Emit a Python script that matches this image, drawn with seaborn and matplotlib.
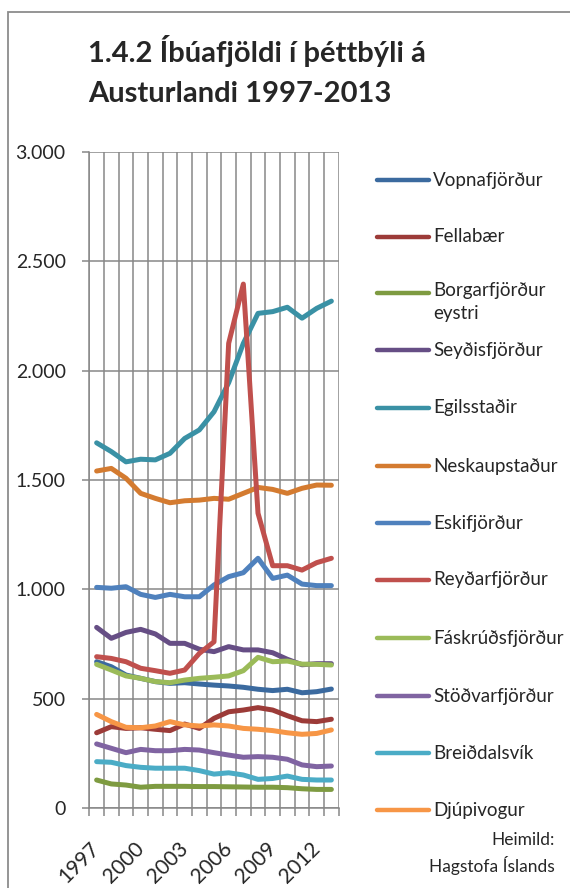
import pandas as pd
import matplotlib.pyplot as plt
import seaborn as sns
from matplotlib.lines import Line2D
from matplotlib.patches import Rectangle
from matplotlib.ticker import FuncFormatter, FixedLocator

# Data
years = list(range(1997, 2014))
vopnafjordur = [669, 646, 608, 593, 578, 570, 573, 567, 562, 558, 552, 543, 537, 543, 527, 532, 544]
fellabaer = [344, 372, 364, 367, 360, 354, 384, 364, 410, 440, 448, 459, 448, 422, 399, 395, 406]
borgarfjordur = [128, 110, 105, 95, 99, 99, 99, 98, 98, 97, 96, 95, 95, 93, 88, 85, 85]
seydisfjordur = [826, 776, 803, 817, 796, 753, 753, 726, 715, 738, 723, 723, 710, 680, 655, 660, 660]
egilsstadir = [1670, 1630, 1583, 1595, 1592, 1622, 1690, 1729, 1812, 1945, 2125, 2262, 2270, 2290, 2240, 2285, 2318]
neskaupstadur = [1541, 1553, 1508, 1439, 1416, 1396, 1405, 1408, 1416, 1412, 1439, 1466, 1457, 1439, 1462, 1477, 1476]
eskifjordur = [1009, 1005, 1012, 977, 963, 977, 966, 966, 1020, 1058, 1076, 1142, 1050, 1065, 1024, 1017, 1017]
reydarfjordur = [692, 684, 669, 639, 628, 616, 631, 707, 760, 2125, 2396, 1348, 1108, 1108, 1088, 1122, 1142]
faskrudsfjordur = [657, 631, 604, 593, 578, 573, 585, 593, 598, 604, 628, 689, 669, 672, 658, 657, 654]
stodvarfjordur = [293, 273, 253, 268, 262, 262, 268, 265, 253, 242, 232, 235, 232, 223, 197, 189, 192]
breiddalsvik = [212, 209, 194, 186, 182, 182, 182, 171, 155, 161, 151, 131, 135, 146, 131, 128, 128]
djupivogur = [428, 395, 369, 367, 375, 395, 380, 375, 380, 375, 364, 360, 354, 344, 337, 341, 357]

towns = ['Vopnafjörður', 'Fellabær', 'Borgarfjörður\neystri', 'Seyðisfjörður',
         'Egilsstaðir', 'Neskaupstaður', 'Eskifjörður', 'Reyðarfjörður',
         'Fáskrúðsfjörður', 'Stöðvarfjörður', 'Breiðdalsvík', 'Djúpivogur']
series = [vopnafjordur, fellabaer, borgarfjordur, seydisfjordur, egilsstadir, neskaupstadur,
          eskifjordur, reydarfjordur, faskrudsfjordur, stodvarfjordur, breiddalsvik, djupivogur]
colors = ['#3B6A9F', '#9C3B38', '#7E9B41', '#664E85', '#3A91A5', '#D47B30',
          '#4F81BD', '#C0504D', '#9BBB59', '#8064A2', '#4BACC6', '#F79646']

rows = []
for town, vals in zip(towns, series):
    for i, (yr, v) in enumerate(zip(years, vals)):
        rows.append({'idx': i, 'year': yr, 'town': town, 'value': v})
df = pd.DataFrame(rows)

sns.set_style('white')
plt.rcParams['font.family'] = ['Lato', 'DejaVu Sans']

grid_c = '#878787'
fig = plt.figure(figsize=(5.7, 8.88), dpi=100)
ax = fig.add_axes([89.3 / 570, 1 - 808 / 888, (338.7 - 89.3) / 570, (808 - 152) / 888])

sns.lineplot(data=df, x='idx', y='value', hue='town', hue_order=towns,
             palette=dict(zip(towns, colors)), linewidth=3.6, legend=False,
             solid_capstyle='round', solid_joinstyle='round', ax=ax, zorder=3)

ax.set_xlim(-0.5, len(years) - 0.5)
ax.set_ylim(0, 3000)
ax.set_yticks(range(0, 3001, 500))
ax.yaxis.set_major_formatter(FuncFormatter(lambda v, p: f'{int(v):,}'.replace(',', '.')))
ax.set_xticks(range(0, len(years), 3))
ax.set_xticklabels([str(y) for y in years[::3]], rotation=45, ha='right',
                   rotation_mode='anchor', va='center')
ax.xaxis.set_minor_locator(FixedLocator([i - 0.5 for i in range(len(years) + 1)]))
ax.set_xlabel('')
ax.set_ylabel('')

ax.grid(True, axis='y', color=grid_c, linewidth=1.1)
ax.grid(True, axis='x', which='minor', color=grid_c, linewidth=1.1)
ax.grid(False, axis='x', which='major')
ax.tick_params(axis='y', which='major', length=5, width=1.1, color=grid_c,
               left=True, labelsize=14, pad=12)
ax.tick_params(axis='x', which='major', length=0, labelsize=15, pad=27)
ax.tick_params(axis='x', which='minor', length=6, width=1.1, color=grid_c, bottom=True)
for s in ['top', 'right']:
    ax.spines[s].set_visible(False)
for s in ['left', 'bottom']:
    ax.spines[s].set_color(grid_c)
    ax.spines[s].set_linewidth(1.1)

# Outer frame
fig.add_artist(Rectangle((8 / 570, -0.2), 1.2, 1.2 - 12 / 888, transform=fig.transFigure,
                         fill=False, edgecolor='#8C8C8C', linewidth=1.3))

# Title
fig.text(88 / 570, 1 - 71 / 888, '1.4.2 Íbúafjöldi í þéttbýli á\nAusturlandi 1997-2013',
         fontsize=21, fontweight='bold', ha='left', va='center', linespacing=1.7)

# Legend
leg_y = [180, 237, 293, 350, 408, 466, 523, 580, 638, 696, 753, 810]
for town, col, yy in zip(towns, colors, leg_y):
    yf = 1 - yy / 888
    fig.add_artist(Line2D([377 / 570, 429 / 570], [yf, yf], transform=fig.transFigure,
                          color=col, linewidth=3.2, solid_capstyle='round'))
    if '\n' in town:
        fig.text(433 / 570, 1 - 282 / 888, town, fontsize=13.5, ha='left', va='top',
                 linespacing=1.45)
    else:
        fig.text(433 / 570, yf, town, fontsize=13.5, ha='left', va='center')

fig.text(555 / 570, 1 - 853 / 888, 'Heimild:\nHagstofa Íslands', fontsize=12.5,
         ha='right', va='center', multialignment='right', linespacing=1.5)

plt.savefig('out.png', dpi=100)
